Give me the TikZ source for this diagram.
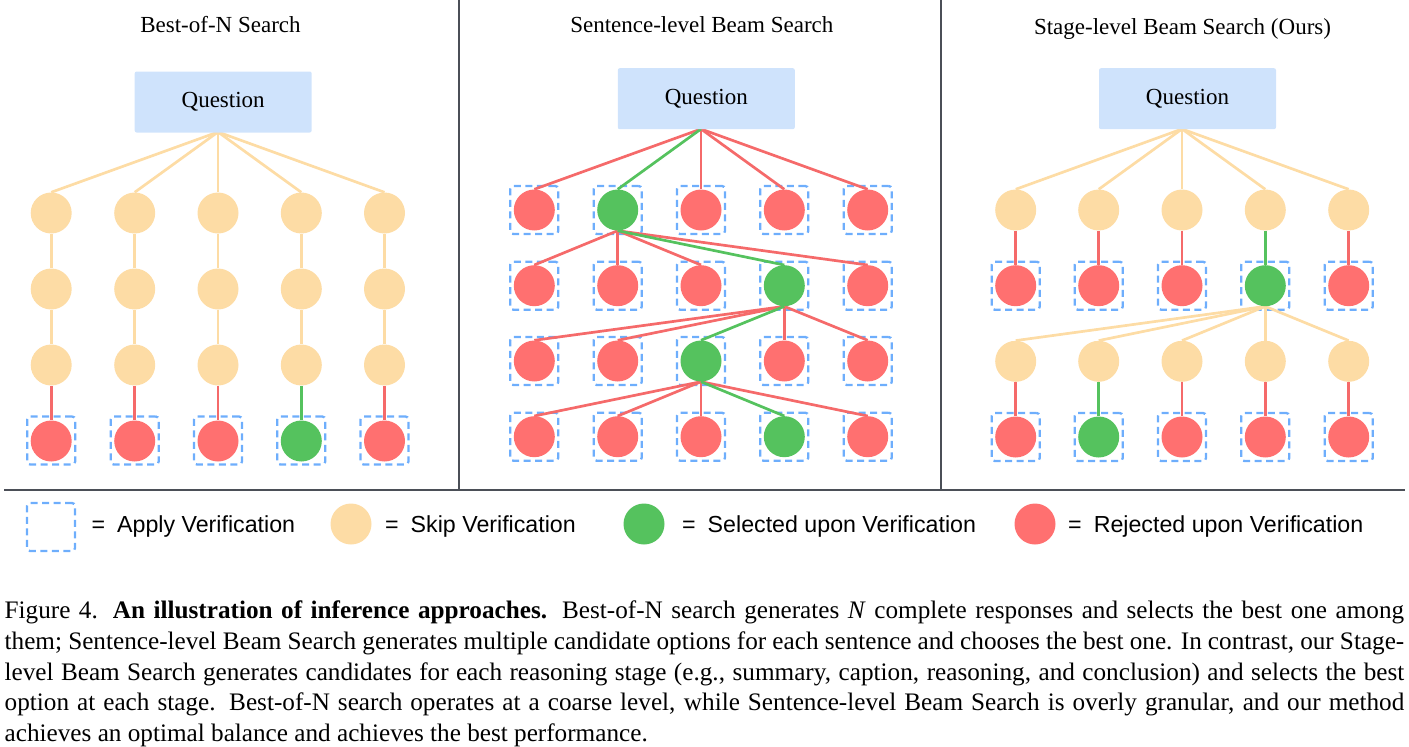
\documentclass[tikz,border=0pt]{standalone}
\usepackage{fontspec}
\setmainfont{Liberation Serif}
\newfontfamily\lgfont{Liberation Sans}
\definecolor{cBeige}{RGB}{253,220,165}
\definecolor{cRed}{RGB}{255,112,112}
\definecolor{cRedL}{RGB}{245,106,106}
\definecolor{cGreen}{RGB}{85,194,94}
\definecolor{cBlue}{RGB}{110,174,252}
\definecolor{cQ}{RGB}{207,227,252}
\definecolor{cDiv}{RGB}{75,79,87}
\pgfdeclarelayer{boxes}
\pgfdeclarelayer{edges}
\pgfsetlayers{boxes,edges,main}
\tikzset{
 circ/.style={circle, minimum size=41pt, inner sep=0pt, draw=none},
 beige/.style={circ, fill=cBeige},
 rej/.style={circ, fill=cRed},
 sel/.style={circ, fill=cGreen},
 vbox/.style={draw=cBlue, dash pattern=on 7pt off 4.5pt, line width=2.3pt, rounded corners=3pt, minimum size=48pt, inner sep=0pt},
 eB/.style={draw=cBeige, line width=2.7pt},
 eR/.style={draw=cRedL, line width=2.7pt},
 eG/.style={draw=cGreen, line width=2.7pt},
 qbox/.style={fill=cQ, rounded corners=2pt, minimum width=177pt, minimum height=61pt, inner sep=0pt, font=\fontsize{23}{27}\selectfont},
 ttl/.style={anchor=base, inner sep=0pt, font=\fontsize{23}{27}\selectfont},
 divider/.style={draw=cDiv, line width=2pt},
 lgtext/.style={anchor=base west, inner sep=0pt, font=\lgfont\fontsize{23.2}{27}\selectfont},
 captext/.style={anchor=base west, inner sep=0pt, font=\fontsize{25.2}{30}\selectfont},
}
\begin{document}
\begin{tikzpicture}[x=1pt,y=-1pt]
\useasboundingbox (0,0) rectangle (1409,747);
% dividers
\draw[divider] (459,0) -- (459,489);
\draw[divider] (941,0) -- (941,489);
\draw[draw=cDiv, line width=2.6pt] (4,490) -- (1405,490);
% titles
\node[ttl] (t1) at (220.5,32.7) {Best-of-N Search};
\node[ttl] (t2) at (701.8,32.7) {Sentence-level Beam Search};
\node[ttl] (t3) at (1182.5,34) {Stage-level Beam Search (Ours)};
% question boxes
\node[qbox] (q1) at (223.2,102) {Question};
\node[qbox] (q2) at (706.3,98.7) {Question};
\node[qbox] (q3) at (1187.5,98.7) {Question};
\coordinate (q1s) at (218,132);
\coordinate (q2s) at (701,129);
\coordinate (q3s) at (1182,129);
% ---------- panel 1
\foreach \c/\x in {1/51.2,2/134.7,3/218,4/301.3,5/384.5}{
  \node[beige] (A1\c) at (\x,213) {};
  \node[beige] (A2\c) at (\x,289) {};
  \node[beige] (A3\c) at (\x,365) {};
}
\foreach \c/\x/\s in {1/51.2/rej,2/134.7/rej,3/218/rej,4/301.3/sel,5/384.5/rej}{
  \node[\s] (A4\c) at (\x,441) {};
  \begin{pgfonlayer}{boxes}\node[vbox] (Ab4\c) at (\x,440.5) {};\end{pgfonlayer}
}
\begin{pgfonlayer}{edges}
\foreach \c in {1,...,5}{
  \draw[eB] (q1s) -- (A1\c.north);
  \draw[eB] (A1\c) -- (A2\c);
  \draw[eB] (A2\c) -- (A3\c);
}
\foreach \c/\e in {1/eR,2/eR,3/eR,4/eG,5/eR}{\draw[\e] (A3\c) -- (A4\c);}
\end{pgfonlayer}
% ---------- panel 2
\foreach \r/\y/\g in {1/210/2,2/285.7/4,3/361/3,4/436.7/4}{
  \foreach \c/\x in {1/534.3,2/617.7,3/701,4/784.3,5/867.7}{
    \ifnum\c=\g\relax\def\st{sel}\else\def\st{rej}\fi
    \node[\st] (B\r\c) at (\x,\y) {};
    \begin{pgfonlayer}{boxes}\node[vbox] (Bb\r\c) at (\x,\y) {};\end{pgfonlayer}
  }
}
\begin{pgfonlayer}{edges}
\foreach \c in {1,3,4,5}{\draw[eR] (q2s) -- (B1\c.north);}
\draw[eG] (q2s) -- (B12.north);
\foreach \c in {1,2,3,5}{\draw[eR] (B12.south) -- (B2\c.north);}
\draw[eG] (B12.south) -- (B24.north);
\foreach \c in {1,2,4,5}{\draw[eR] (B24.south) -- (B3\c.north);}
\draw[eG] (B24.south) -- (B33.north);
\foreach \c in {1,2,3,5}{\draw[eR] (B33.south) -- (B4\c.north);}
\draw[eG] (B33.south) -- (B44.north);
\end{pgfonlayer}
% ---------- panel 3
\foreach \c/\x/\sa/\sb in {1/1015.7/rej/rej,2/1098.7/rej/sel,3/1182/rej/rej,4/1265.3/sel/rej,5/1348.7/rej/rej}{
  \node[beige] (C1\c) at (\x,210) {};
  \node[\sa] (C2\c) at (\x,285.7) {};
  \node[beige] (C3\c) at (\x,361.3) {};
  \node[\sb] (C4\c) at (\x,437) {};
  \begin{pgfonlayer}{boxes}
    \node[vbox] (Cb2\c) at (\x,285.7) {};
    \node[vbox] (Cb4\c) at (\x,437) {};
  \end{pgfonlayer}
}
\begin{pgfonlayer}{edges}
\foreach \c/\ea/\eb in {1/eR/eR,2/eR/eG,3/eR/eR,4/eG/eR,5/eR/eR}{
  \draw[eB] (q3s) -- (C1\c.north);
  \draw[\ea] (C1\c) -- (C2\c);
  \draw[eB] (C24.south) -- (C3\c.north);
  \draw[\eb] (C3\c) -- (C4\c);
}
\end{pgfonlayer}
% ---------- legend
\node[vbox] (lgbox) at (51,527) {};
\node[lgtext] (lgt1) at (91.4,532) {=\hspace{12pt}Apply Verification};
\node[beige] (lgc2) at (351,524) {};
\node[lgtext] (lgt2) at (385,532) {=\hspace{12pt}Skip Verification};
\node[sel] (lgc3) at (644,524) {};
\node[lgtext] (lgt3) at (682,532) {=\hspace{12pt}Selected upon Verification};
\node[rej] (lgc4) at (1035,524) {};
\node[lgtext] (lgt4) at (1068,532) {=\hspace{12pt}Rejected upon Verification};
% ---------- caption
\node[captext] (cap1) at (4.5,618.5) {\makebox[1399.5pt][s]{Figure 4. \textbf{An illustration of inference approaches.} Best-of-N search generates \textit{N} complete responses and selects the best one among}};
\node[captext] (cap2) at (4.5,649.3) {\makebox[1399.5pt][s]{them; Sentence-level Beam Search generates multiple candidate options for each sentence and chooses the best one. In contrast, our Stage-}};
\node[captext] (cap3) at (4.5,680) {\makebox[1399.5pt][s]{level Beam Search generates candidates for each reasoning stage (e.g., summary, caption, reasoning, and conclusion) and selects the best}};
\node[captext] (cap4) at (4.5,710.8) {\makebox[1399.5pt][s]{option at each stage. Best-of-N search operates at a coarse level, while Sentence-level Beam Search is overly granular, and our method}};
\node[captext] (cap5) at (4.5,741.6) {achieves an optimal balance and achieves the best performance.};
\end{tikzpicture}
\end{document}
